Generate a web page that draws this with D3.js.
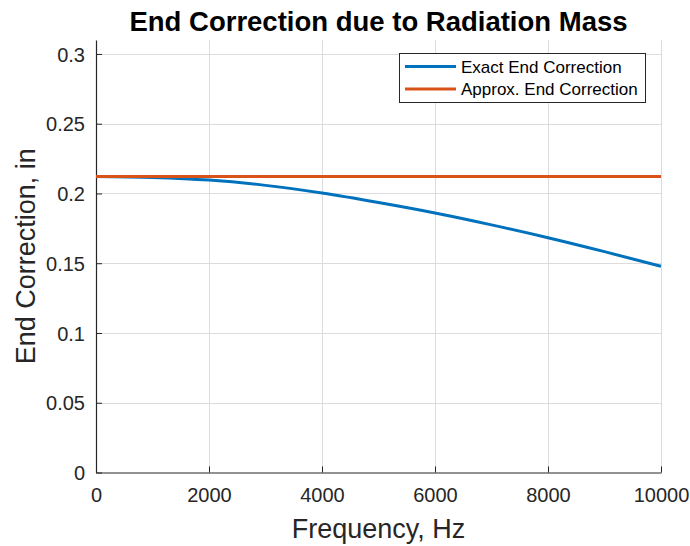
<!DOCTYPE html>
<html>
<head>
<meta charset="utf-8">
<script src="https://cdn.jsdelivr.net/npm/d3@7"></script>
<style>
  html, body { margin: 0; padding: 0; background: #ffffff; }
  svg { display: block; font-family: "Liberation Sans", Arial, Helvetica, sans-serif; }
</style>
</head>
<body>
<svg id="chart" width="690" height="546"></svg>
<script>
// ---- data ----
const frequencies = [0, 1000, 2000, 3000, 4000, 5000, 6000, 7000, 8000, 9000, 10000];
const exactEndCorrection = [0.2122, 0.2115, 0.2096, 0.2058, 0.2003, 0.1935, 0.1860, 0.1775, 0.1683, 0.1583, 0.1478];
const approxEndCorrection = [0.2122, 0.2122, 0.2122, 0.2122, 0.2122, 0.2122, 0.2122, 0.2122, 0.2122, 0.2122, 0.2122];
const xTicks = [0, 2000, 4000, 6000, 8000, 10000];
const yTicks = [0, 0.05, 0.1, 0.15, 0.2, 0.25, 0.3];
const seriesNames = ["Exact End Correction", "Approx. End Correction"];
const seriesColors = ["#0072BD", "#D95319"];
const titleText = "End Correction due to Radiation Mass";
const xLabelText = "Frequency, Hz";
const yLabelText = "End Correction, in";

(function () {
// ---- layout ----
const svg = d3.select("#chart");
const pLeft = 96, pRight = 661, pTop = 40, pBottom = 472.5;
const axisColor = "#262626";

const x = d3.scaleLinear().domain([0, 10000]).range([pLeft, pRight]);
const y = d3.scaleLinear().domain([0, 0.31]).range([pBottom, pTop]);

// grid
const grid = svg.append("g");
grid.selectAll("line.vx").data(xTicks.filter(d => d !== 0)).enter().append("line")
  .attr("x1", d => Math.round(x(d)) + 0.5).attr("x2", d => Math.round(x(d)) + 0.5)
  .attr("y1", pTop).attr("y2", pBottom)
  .attr("stroke", "#dcdcdc").attr("stroke-width", 1);
grid.selectAll("line.hy").data(yTicks.filter(d => d !== 0)).enter().append("line")
  .attr("x1", pLeft).attr("x2", pRight)
  .attr("y1", d => Math.round(y(d)) + 0.5).attr("y2", d => Math.round(y(d)) + 0.5)
  .attr("stroke", "#dcdcdc").attr("stroke-width", 1);

// axes (ticks inward)
const xAxis = d3.axisBottom(x).tickValues(xTicks).tickSizeInner(-6).tickSizeOuter(0)
  .tickPadding(15).tickFormat(d3.format("d"));
const yAxis = d3.axisLeft(y).tickValues(yTicks).tickSizeInner(-6).tickSizeOuter(0)
  .tickPadding(11).tickFormat(d => d === 0 ? "0" : String(+d.toFixed(2)));

const gx = svg.append("g").attr("transform", `translate(0,${pBottom})`).call(xAxis);
const gy = svg.append("g").attr("transform", `translate(${pLeft},0)`).call(yAxis);
[gx, gy].forEach(g => {
  g.select(".domain").attr("stroke", axisColor).attr("stroke-width", 1.2);
  g.selectAll(".tick line").attr("stroke", axisColor).attr("stroke-width", 1);
  g.selectAll(".tick text").attr("fill", axisColor)
    .style("font-size", "20px").style("font-family", "Liberation Sans, Arial, sans-serif");
});
gx.selectAll(".tick text").attr("dy", "0.71em");
gy.selectAll(".tick text").attr("dy", "0.36em");

// lines
const lineGen = (vals) => d3.line()
  .x((d, i) => x(frequencies[i]))
  .y(d => y(d))
  .curve(d3.curveMonotoneX)(vals);

const plot = svg.append("g");
plot.append("path").attr("d", lineGen(exactEndCorrection))
  .attr("fill", "none").attr("stroke", seriesColors[0]).attr("stroke-width", 3);
plot.append("path").attr("d", lineGen(approxEndCorrection))
  .attr("fill", "none").attr("stroke", seriesColors[1]).attr("stroke-width", 3);

// title & labels
svg.append("text").attr("x", (pLeft + pRight) / 2).attr("y", 31)
  .attr("text-anchor", "middle").attr("fill", "#000")
  .style("font-size", "27.5px").style("font-weight", "bold")
  .text(titleText);

svg.append("text").attr("x", (pLeft + pRight) / 2).attr("y", 538)
  .attr("text-anchor", "middle").attr("fill", axisColor)
  .style("font-size", "27px")
  .text(xLabelText);

svg.append("text")
  .attr("transform", `translate(35,${(pTop + pBottom) / 2}) rotate(-90)`)
  .attr("text-anchor", "middle").attr("fill", axisColor)
  .style("font-size", "27px")
  .text(yLabelText);

// legend
const legend = svg.append("g");
legend.append("rect").attr("x", 399.5).attr("y", 53.5).attr("width", 246).attr("height", 49)
  .attr("fill", "#fff").attr("stroke", axisColor).attr("stroke-width", 1);
seriesNames.forEach((name, i) => {
  const ly = 66.5 + i * 22.5;
  legend.append("line").attr("x1", 405).attr("x2", 456).attr("y1", ly).attr("y2", ly)
    .attr("stroke", seriesColors[i]).attr("stroke-width", 3);
  legend.append("text").attr("x", 461).attr("y", ly).attr("dy", "0.36em")
    .attr("fill", "#000").style("font-size", "17px").text(name);
});
})();
</script>
</body>
</html>
